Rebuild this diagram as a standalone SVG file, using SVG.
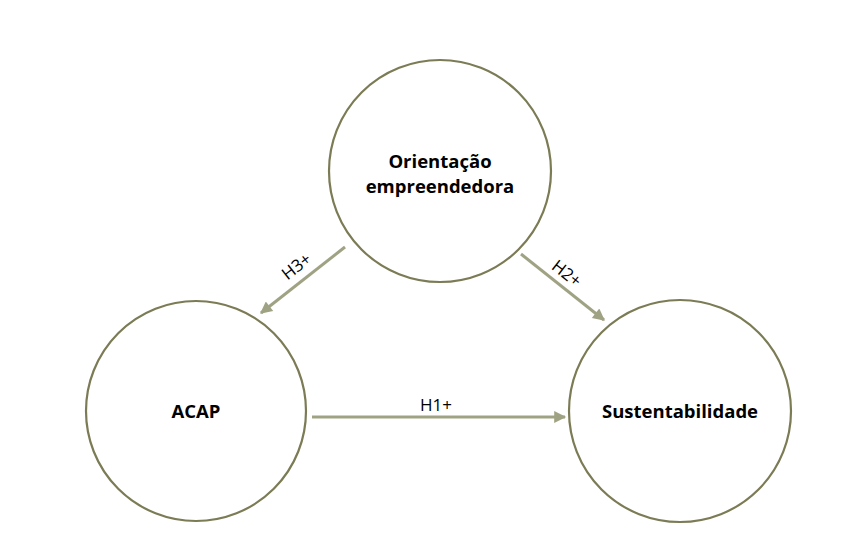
<svg xmlns="http://www.w3.org/2000/svg" width="852" height="549" viewBox="0 0 852 549">
<style>
.node{fill:#fff;stroke:#7b7b55;stroke-width:2.2}
.nt{font-family:"Open Sans",sans-serif;font-weight:bold;font-size:18.5px;fill:#000;text-anchor:middle}
.lb{font-family:"Open Sans",sans-serif;font-size:17px;fill:#000;text-anchor:middle}
.edge{stroke:#a0a383;stroke-width:3;fill:none}
</style>
<defs>
<marker id="ah" viewBox="0 0 10 10" refX="9" refY="5" markerWidth="5" markerHeight="4" orient="auto" markerUnits="strokeWidth">
<path d="M0,0 L10,5 L0,10 z" fill="#a0a383"/>
</marker>
</defs>
<rect width="852" height="549" fill="#fff"/>
<g id="n-orientacao">
<circle class="node" cx="440" cy="171" r="111"/>
<text class="nt" x="440" y="168">Orientação</text>
<text class="nt" x="440" y="193">empreendedora</text>
</g>
<g id="n-acap">
<circle class="node" cx="196" cy="411" r="110"/>
<text class="nt" x="196" y="418">ACAP</text>
</g>
<g id="n-sust">
<circle class="node" cx="680" cy="411" r="111"/>
<text class="nt" x="680" y="418">Sustentabilidade</text>
</g>
<g id="connectors">
<line class="edge" x1="312" y1="417" x2="565" y2="417" marker-end="url(#ah)"/>
<line class="edge" x1="345" y1="247" x2="261" y2="313" marker-end="url(#ah)"/>
<line class="edge" x1="521" y1="254" x2="604" y2="320" marker-end="url(#ah)"/>
<text class="lb" x="436" y="411">H1+</text>
<text class="lb" transform="translate(300,271) rotate(-38)">H3+</text>
<text class="lb" transform="translate(563,278) rotate(38)">H2+</text>
</g>
</svg>
